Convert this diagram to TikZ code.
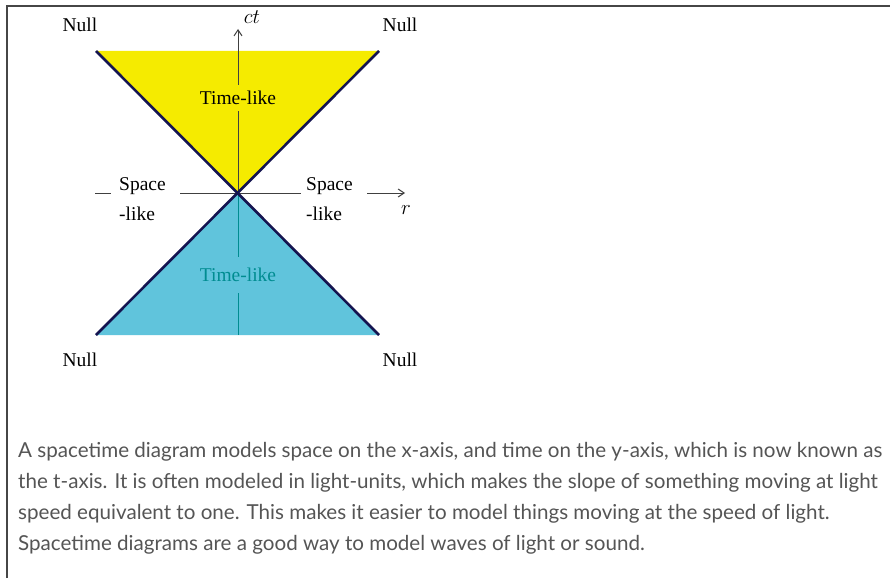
\documentclass[tikz,border=0pt]{standalone}
\usepackage{fontspec}
\setmainfont{Liberation Serif}
\newfontfamily\bodyfont{Lato}
\usetikzlibrary{arrows.meta, positioning}
\definecolor{coneyellow}{RGB}{245,235,0}
\definecolor{coneblue}{RGB}{96,196,220}
\definecolor{edgenavy}{RGB}{20,20,80}
\definecolor{labelteal}{RGB}{0,140,145}
\definecolor{bodygray}{RGB}{85,85,85}
\definecolor{framegray}{RGB}{70,70,70}
\tikzset{
  % cone edges and fills
  coneedge/.style={draw=edgenavy, line width=2.6pt, line join=round},
  axisline/.style={draw=#1, line width=1pt},
  axisarrow/.style={-{Straight Barb[length=6pt, width=8pt]}, line width=1pt, draw=#1},
  conelabel/.style={font=\fontsize{19.5}{22}\selectfont, inner xsep=1pt, inner ysep=6pt},
  nulllabel/.style={font=\fontsize{19.5}{22}\selectfont, inner sep=0pt},
  bodytext/.style={font=\bodyfont\fontsize{20.6}{31}\selectfont, text=bodygray,
    align=left, anchor=north west, inner sep=0pt}
}
\begin{document}
\begin{tikzpicture}[x=1pt, y=-1pt]
  \useasboundingbox (0,0) rectangle (890,586);
  \fill[white] (0,0) rectangle (890,586);

  % frame (top and left edges only)
  \draw[framegray, line width=2pt] (7,578) -- (7,6) -- (890,6);

  % --- cone vertices ---
  \coordinate (apex) at (238,193);
  \coordinate (ftl) at (96,51);
  \coordinate (ftr) at (379,51);
  \coordinate (pbl) at (96,335);
  \coordinate (pbr) at (379,335);

  % --- fills ---
  \fill[coneyellow] (ftl) -- (ftr) -- (apex) -- cycle;
  \fill[coneblue] (pbl) -- (pbr) -- (apex) -- cycle;

  % --- labels ---
  \node[conelabel] (futlab) at (238,98) {Time-like};
  \node[conelabel, text=labelteal, inner ysep=11pt] (pastlab) at (238,275) {Time-like};
  \node[conelabel, anchor=west] (spl) at (118,186) {Space};
  \node[conelabel, anchor=west] (likel) at (118,214) {-like};
  \node[conelabel, anchor=west] (spr) at (305,186) {Space};
  \node[conelabel, anchor=west] (liker) at (305,214) {-like};
  \node[conelabel, font=\fontsize{21}{24}\selectfont] (ctlab) at (252,17) {$ct$};
  \node[conelabel, font=\fontsize{21}{24}\selectfont] (rlab) at (406,210) {$r$};
  \node[nulllabel] (nulltl) at (80,25) {Null};
  \node[nulllabel] (nulltr) at (400,25) {Null};
  \node[nulllabel] (nullbl) at (80,360) {Null};
  \node[nulllabel] (nullbr) at (400,360) {Null};

  % --- axis end points ---
  \coordinate (cttip) at (238,29);
  \coordinate (ctbot) at (238,335);
  \coordinate (rdashl) at (95,193);
  \coordinate (rdashr) at (111,193);
  \coordinate (rleft) at (180,193);
  \coordinate (rright) at (301,193);
  \coordinate (rarrl) at (367,193);
  \coordinate (rtip) at (405,193);

  % --- ct axis ---
  \draw[axisline=black!75] (apex) -- (futlab.south);
  \draw[axisarrow=black!75] (futlab.north) -- (cttip);
  \draw[axisline=labelteal] (apex) -- (pastlab.north);
  \draw[axisline=labelteal] (pastlab.south) -- (ctbot);

  % --- r axis ---
  \draw[axisline=black!75] (rdashl) -- (rdashr);
  \draw[axisline=black!75] (rleft) -- (rright);
  \draw[axisarrow=black!75] (rarrl) -- (rtip);

  % --- cone edges ---
  \draw[coneedge] (ftl) -- (pbr);
  \draw[coneedge] (ftr) -- (pbl);

  % --- caption ---
  \node[bodytext] (caption) at (18,442) {A spacetime diagram models space on the x-axis, and time on the y-axis, which is now known as\\
the t-axis. It is often modeled in light-units, which makes the slope of something moving at light\\
speed equivalent to one. This makes it easier to model things moving at the speed of light.\\
Spacetime diagrams are a good way to model waves of light or sound.};
\end{tikzpicture}
\end{document}
